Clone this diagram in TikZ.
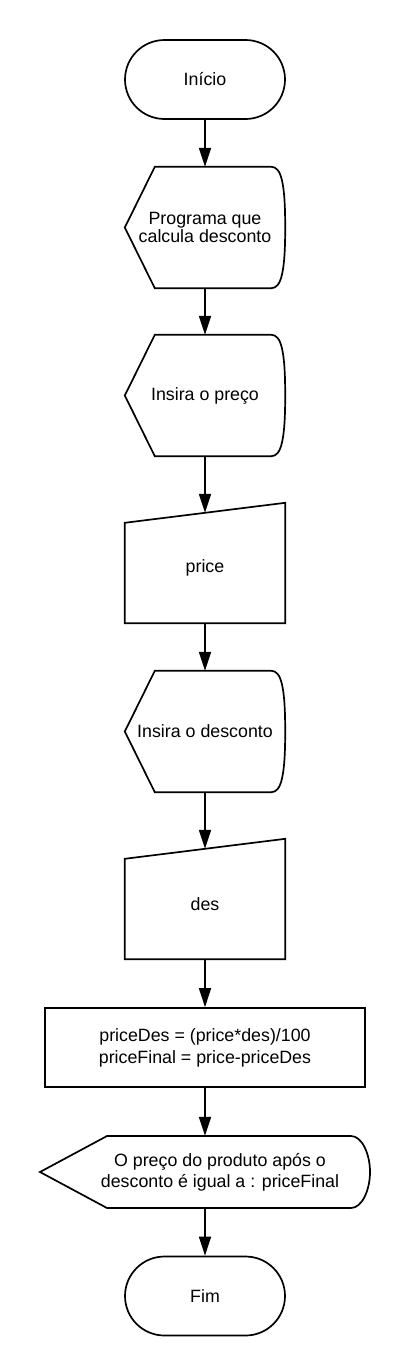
\documentclass[tikz,border=0pt]{standalone}
\usepackage{fontspec}
\setmainfont{Liberation Sans}
\usetikzlibrary{arrows.meta,calc}
\newcommand{\drawdisp}[1]{%
  \draw[outl] (#1.west) -- ($(#1.north west)+(30,0)$) -- ($(#1.north east)+(-14,0)$)
    .. controls ($(#1.north east)+(-4,0)$) and ($(#1.east)+(0,-45)$) .. (#1.east)
    .. controls ($(#1.east)+(0,45)$) and ($(#1.south east)+(-4,0)$) .. ($(#1.south east)+(-14,0)$)
    -- ($(#1.south west)+(30,0)$) -- cycle;}
\newcommand{\drawmanual}[1]{%
  \draw[outl] ($(#1.north west)+(0,10)$) -- ($(#1.north east)+(0,-10)$) -- (#1.south east) -- (#1.south west) -- cycle;}
\begin{document}
\begin{tikzpicture}[x=1pt,y=-1pt,
  every node/.style={font=\fontsize{17.8}{20}\selectfont, align=center, inner sep=0pt},
  term/.style={draw, line width=1.7pt, rounded corners=39.5pt, minimum width=160pt, minimum height=79pt},
  disp/.style={minimum width=160pt, minimum height=121pt},
  manual/.style={minimum width=160pt, minimum height=110pt},
  proc/.style={draw, line width=1.7pt, minimum width=320pt, minimum height=79pt},
  outl/.style={line width=1.7pt, line join=miter},
  flow/.style={-{Triangle[length=19pt,width=12pt]}, line width=1.7pt}
]
\useasboundingbox (0,0) rectangle (410,1368);
\fill[white] (0,0) rectangle (410,1368);

\node[term] (start) at (205,79.5) {Início};
\node[disp, font=\fontsize{17.8}{18.5}\selectfont] (d1) at (205,227.5) {Programa que\\calcula desconto};
\node[disp] (d2) at (205,395.5) {Insira o preço};
\node[manual] (m1) at (205,568) {\raisebox{-4pt}{price}};
\node[disp] (d3) at (205,731.5) {Insira o desconto};
\node[manual] (m2) at (205,904) {\raisebox{-4pt}{des}};
\node[proc, font=\fontsize{17.8}{22}\selectfont] (calc) at (205,1047.5) {priceDes = (price*des)/100\\priceFinal = price-priceDes};
\node[minimum height=72pt, font=\fontsize{17.8}{21}\selectfont] (out) at (220,1172) {O preço do produto após o\\desconto é igual a : priceFinal};
\node[term] (fim) at (205,1296) {Fim};

\drawdisp{d1}
\drawdisp{d2}
\drawdisp{d3}
\drawmanual{m1}
\drawmanual{m2}
\draw[outl] ($(out.center)+(-180,0)$) -- ($(out.center)+(-113,-36)$) -- ($(out.center)+(131,-36)$)
  .. controls ($(out.center)+(142,-36)$) and ($(out.center)+(150,-18)$) .. ($(out.center)+(150,0)$)
  .. controls ($(out.center)+(150,18)$) and ($(out.center)+(142,36)$) .. ($(out.center)+(131,36)$)
  -- ($(out.center)+(-113,36)$) -- cycle;

\draw[flow] (start) -- (d1);
\draw[flow] (d1) -- (d2);
\draw[flow] (d2) -- (m1);
\draw[flow] (m1) -- (d3);
\draw[flow] (d3) -- (m2);
\draw[flow] (m2) -- (calc);
\draw[flow] (calc.south) -- (calc.south |- out.north);
\draw[flow] (fim.north |- out.south) -- (fim.north);
\end{tikzpicture}
\end{document}
